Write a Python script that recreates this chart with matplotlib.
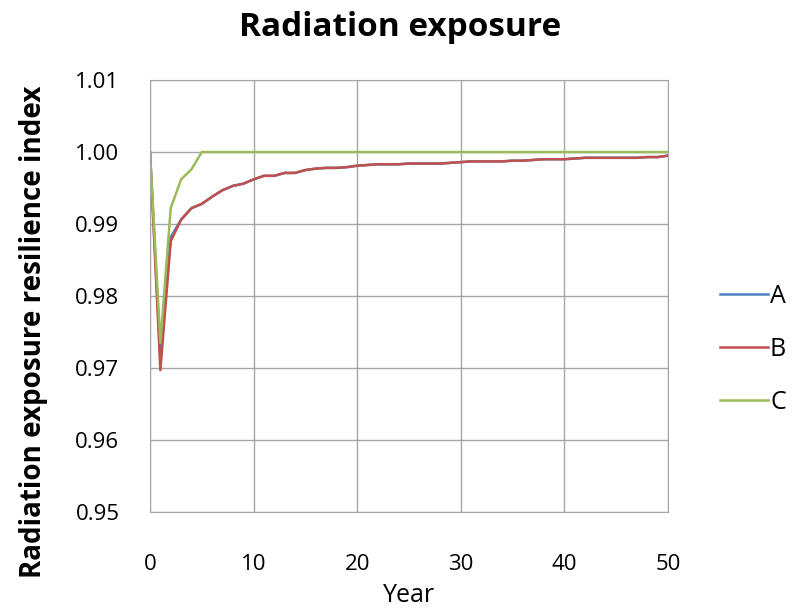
import numpy as np
import matplotlib
matplotlib.use("Agg")
import matplotlib.pyplot as plt

plt.rcParams['font.family'] = ['Open Sans', 'DejaVu Sans']

years = np.arange(0, 51)

# resilience index per year for each scenario
series_a = [1.0, 0.9715, 0.9882, 0.9906, 0.9922, 0.9928, 0.9938, 0.9947, 0.9953, 0.9956,
            0.9962, 0.9967, 0.9967, 0.9971, 0.9971, 0.9975, 0.9977, 0.9978, 0.9978, 0.9979,
            0.9981, 0.9982, 0.9983, 0.9983, 0.9983, 0.9984, 0.9984, 0.9984, 0.9984, 0.9985,
            0.9986, 0.9987, 0.9987, 0.9987, 0.9987, 0.9988, 0.9988, 0.9989, 0.9990, 0.9990,
            0.9990, 0.9991, 0.9992, 0.9992, 0.9992, 0.9992, 0.9992, 0.9992, 0.9993, 0.9993,
            0.9995]
series_b = [1.0, 0.9697, 0.9876, 0.9906, 0.9922, 0.9928, 0.9938, 0.9947, 0.9953, 0.9956,
            0.9962, 0.9967, 0.9967, 0.9971, 0.9971, 0.9975, 0.9977, 0.9978, 0.9978, 0.9979,
            0.9981, 0.9982, 0.9983, 0.9983, 0.9983, 0.9984, 0.9984, 0.9984, 0.9984, 0.9985,
            0.9986, 0.9987, 0.9987, 0.9987, 0.9987, 0.9988, 0.9988, 0.9989, 0.9990, 0.9990,
            0.9990, 0.9991, 0.9992, 0.9992, 0.9992, 0.9992, 0.9992, 0.9992, 0.9993, 0.9993,
            0.9995]
series_c = [1.0, 0.9735, 0.9922, 0.9962, 0.9976] + [1.0] * 46

labels = ['A', 'B', 'C']
colors = ['#4F81BD', '#C0504D', '#9BBB59']

fig = plt.figure(figsize=(8, 6.11), dpi=100)
ax = fig.add_axes([0.1875, 0.162, 0.6475, 0.707])

for vals, lab, col in zip([series_a, series_b, series_c], labels, colors):
    ax.plot(years, vals, color=col, lw=1.8, label=lab)

ax.set_xlim(0, 50)
ax.set_ylim(0.95, 1.01)
ax.set_xticks(np.arange(0, 51, 10))
ax.set_yticks(np.arange(0.95, 1.0101, 0.01))
ax.set_yticklabels(['%.2f' % v for v in np.arange(0.95, 1.0101, 0.01)])
ax.grid(True, color='#a6a6a6', lw=1)
ax.set_axisbelow(True)
for s in ax.spines.values():
    s.set_color('#a6a6a6')
ax.tick_params(length=0, labelsize=16, pad=22)
ax.tick_params(axis='x', pad=30)

ax.set_xlabel('Year', fontsize=18, labelpad=6)
ax.set_ylabel('Radiation exposure resilience index', fontsize=20,
              fontweight='bold')
ax.yaxis.set_label_coords(-0.197, 0.417)
fig.suptitle('Radiation exposure', fontsize=24, fontweight='bold', y=0.982)

fig.legend(loc='center left', bbox_to_anchor=(0.9, 0.428), frameon=False,
           borderpad=0, borderaxespad=0, fontsize=18, handlelength=1.9,
           handletextpad=0.1, labelspacing=1.12)

fig.savefig('out.png', dpi=100)
